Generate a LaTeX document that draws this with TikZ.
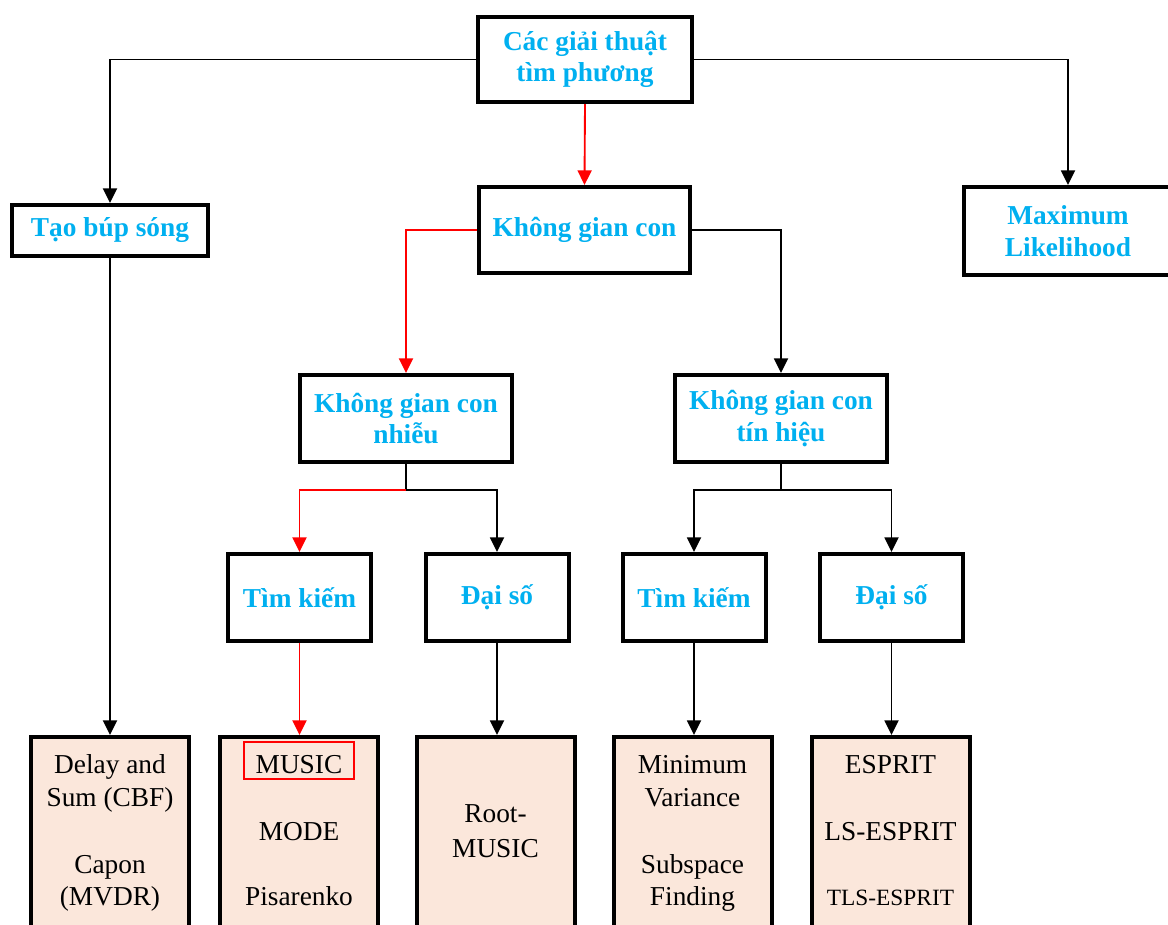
\documentclass[tikz,border=0pt]{standalone}
\usepackage{fontspec}
\setmainfont{Liberation Serif}
\usetikzlibrary{arrows.meta}
\definecolor{hdblue}{RGB}{0,176,240}
\definecolor{resfill}{RGB}{251,231,219}
\definecolor{hlred}{RGB}{255,0,0}
\tikzset{
  catbox/.style={draw=black, line width=3pt, fill=white, inner sep=0pt, align=center,
    text=hdblue, font=\fontsize{20.5}{23.5}\selectfont\bfseries},
  resbox/.style={draw=black, line width=3pt, fill=resfill, inner sep=0pt,
    minimum width=118.5pt, minimum height=190pt, anchor=north},
  restext/.style={anchor=base, inner sep=0pt, font=\fontsize{20.5}{24}\selectfont},
  conn/.style={draw=black, line width=1.4pt},
  arr/.style={conn, -{Triangle[width=10.5pt,length=11pt]}},
  redarr/.style={arr, draw=hlred, color=hlred},
}
\begin{document}
\begin{tikzpicture}[x=0.75pt,y=-0.75pt]
\useasboundingbox (0,0) rectangle (1168,925);
\clip (0,0) rectangle (1168,925);

% category boxes
\node[catbox, minimum width=160.5pt, minimum height=63.75pt] (top) at (585,59.5) {Các giải thuật\\tìm phương};
\node[catbox, minimum width=147pt, minimum height=38.25pt] (tao) at (110,230.5) {Tạo búp sóng};
\node[catbox, minimum width=156pt, minimum height=66pt] (ml) at (1068,231) {Maximum\\Likelihood};
\node[catbox, minimum width=158.25pt, minimum height=64.5pt] (kgc) at (584.5,230) {Không gian con};
\node[catbox, minimum width=159pt, minimum height=65.25pt] (nhieu) at (406,418.5) {Không gian con\\nhiễu};
\node[catbox, minimum width=159pt, minimum height=65.25pt] (tinhieu) at (781,418.5) {Không gian con\\tín hiệu};
\node[catbox, minimum width=107.25pt, minimum height=65.25pt] (tk1) at (299.5,597.5) {Tìm kiếm};
\node[catbox, minimum width=107.25pt, minimum height=65.25pt] (ds1) at (497,597.5) {Đại số};
\node[catbox, minimum width=107.25pt, minimum height=65.25pt] (tk2) at (694,597.5) {Tìm kiếm};
\node[catbox, minimum width=107.25pt, minimum height=65.25pt] (ds2) at (891.5,597.5) {Đại số};

% result boxes
\node[resbox] (r1) at (110,735) {};
\node[resbox] (r2) at (299,735) {};
\node[resbox] (r3) at (495.5,735) {};
\node[resbox] (r4) at (692.5,735) {};
\node[resbox] (r5) at (890.5,735) {};

% result texts
\node[restext] at (110,773) {Delay and};
\node[restext] at (110,806) {Sum (CBF)};
\node[restext] at (110,873) {Capon};
\node[restext] at (110,905) {(MVDR)};

\node[restext, draw=hlred, line width=1.5pt, inner xsep=9pt, text height=23pt, text depth=4.5pt] (music) at (299,773) {MUSIC};
\node[restext] at (299,840) {MODE};
\node[restext] at (299,905) {Pisarenko};

\node[restext] at (495.5,822) {Root-};
\node[restext] at (495.5,857) {MUSIC};

\node[restext] at (692.5,773) {Minimum};
\node[restext] at (692.5,806) {Variance};
\node[restext] at (692.5,873) {Subspace};
\node[restext] at (692.5,905) {Finding};

\node[restext] at (890.5,773) {ESPRIT};
\node[restext] at (890.5,840) {LS-ESPRIT};
\node[restext, font=\fontsize{17.5}{21}\selectfont] at (890.5,905) {TLS-ESPRIT};

% connectors
\draw[arr] (top.west) -| (tao.north);
\draw[arr] (top.east) -| (ml.north);
\draw[redarr] (top.south) -- (kgc.north);
\draw[redarr] (kgc.west) -| (nhieu.north);
\draw[arr] (kgc.east) -| (tinhieu.north);

\coordinate (j1) at (406,490);
\coordinate (j2) at (781,490);
\draw[conn] (nhieu.south) -- (j1);
\draw[redarr] (j1) -| (tk1.north);
\draw[arr] (j1) -| (ds1.north);
\draw[conn] (tinhieu.south) -- (j2);
\draw[arr] (j2) -| (tk2.north);
\draw[arr] (j2) -| (ds2.north);

\draw[arr] (tao.south) -- (r1.north);
\draw[redarr] (tk1.south) -- (r2.north -| tk1.south);
\draw[arr] (ds1.south) -- (r3.north -| ds1.south);
\draw[arr] (tk2.south) -- (r4.north -| tk2.south);
\draw[arr] (ds2.south) -- (r5.north -| ds2.south);
\end{tikzpicture}
\end{document}
